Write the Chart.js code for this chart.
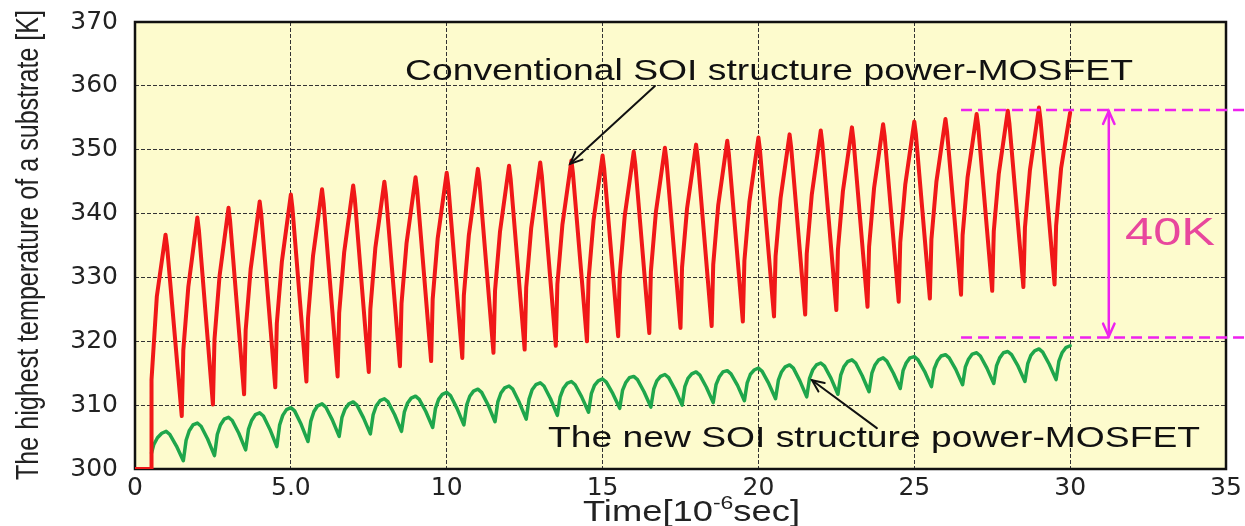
<!DOCTYPE html>
<html>
<head>
<meta charset="utf-8">
<script src="https://cdn.jsdelivr.net/npm/chart.js@4.4.1/dist/chart.umd.min.js"></script>
<style>
  html, body { margin: 0; padding: 0; background: #ffffff; }
  #wrap { width: 1245px; height: 526px; }
</style>
</head>
<body>
<div id="wrap"><canvas id="c" width="1245" height="526"></canvas></div>
<script>
// ---------- data ----------
const xTickValues = [0, 5, 10, 15, 20, 25, 30, 35];
const xTickLabels = ['0', '5.0', '10', '15', '20', '25', '30', '35'];
const yTickLabels = ['300', '310', '320', '330', '340', '350', '360', '370'];

// Conventional SOI structure power-MOSFET (red), time in 10^-6 s, temperature in K
const redTime = [0, 0.52, 0.53, 0.7, 0.98, 1.03,
  1.5, 1.55, 1.71, 2, 2.05, 2.5, 2.55, 2.71, 3, 3.05, 3.5, 3.55, 3.71, 4, 4.05,
  4.5, 4.55, 4.71, 5, 5.05, 5.5, 5.55, 5.71, 6, 6.05, 6.5, 6.55, 6.71, 7, 7.05,
  7.5, 7.55, 7.71, 8, 8.05, 8.5, 8.55, 8.71, 9, 9.05, 9.5, 9.55, 9.71, 10, 10.05,
  10.5, 10.55, 10.71, 11, 11.05, 11.5, 11.55, 11.71, 12, 12.05, 12.5, 12.55, 12.71, 13, 13.05,
  13.5, 13.55, 13.71, 14, 14.05, 14.5, 14.55, 14.71, 15, 15.05, 15.5, 15.55, 15.71, 16, 16.05,
  16.5, 16.55, 16.71, 17, 17.05, 17.5, 17.55, 17.71, 18, 18.05, 18.5, 18.55, 18.71, 19, 19.05,
  19.5, 19.55, 19.71, 20, 20.05, 20.5, 20.55, 20.71, 21, 21.05, 21.5, 21.55, 21.71, 22, 22.05,
  22.5, 22.55, 22.71, 23, 23.05, 23.5, 23.55, 23.71, 24, 24.05, 24.5, 24.55, 24.71, 25, 25.05,
  25.5, 25.55, 25.71, 26, 26.05, 26.5, 26.55, 26.71, 27, 27.05, 27.5, 27.55, 27.71, 28, 28.05,
  28.5, 28.55, 28.71, 29, 29.05, 29.5, 29.55, 29.71, 30];
const redTemp = [300, 300, 314, 327, 336.7, 334.8,
  308.3, 318.6, 328.5, 339.4, 337.4, 310.1, 320.3, 330.1, 340.9, 338.9, 311.7, 321.7, 331.3, 341.9, 339.9,
  312.8, 322.8, 332.4, 343.0, 340.9, 313.7, 323.6, 333.3, 343.8, 341.7, 314.5, 324.4, 333.9, 344.4, 342.4,
  315.2, 325.0, 334.6, 345.0, 343.0, 316.1, 325.9, 335.3, 345.7, 343.7, 316.9, 326.6, 336.1, 346.4, 344.4,
  317.4, 327.2, 336.6, 347.0, 345.0, 318.2, 327.9, 337.2, 347.5, 345.5, 318.7, 328.4, 337.7, 348.0, 346.0,
  319.3, 328.9, 338.2, 348.3, 346.3, 320.0, 329.6, 338.9, 349.1, 347.1, 320.8, 330.3, 339.6, 349.7, 347.7,
  321.3, 330.9, 340.2, 350.3, 348.3, 322.1, 331.6, 340.8, 350.8, 348.8, 322.4, 332.0, 341.3, 351.4, 349.4,
  323.1, 332.6, 341.8, 351.9, 349.9, 323.9, 333.3, 342.4, 352.4, 350.4, 324.2, 333.7, 342.9, 353.0, 351.0,
  324.9, 334.3, 343.5, 353.5, 351.5, 325.4, 334.8, 344.0, 354.0, 352.1, 326.2, 335.5, 344.5, 354.4, 352.5,
  326.7, 336.0, 345.0, 354.8, 352.9, 327.3, 336.6, 345.7, 355.6, 353.7, 327.9, 337.2, 346.2, 356.1, 354.2,
  328.5, 337.8, 346.8, 356.6, 354.7, 328.9, 338.1, 347.1, 355.8];

// The new SOI structure power-MOSFET (green)
const greenTime = [0.53, 0.6, 0.72, 0.86, 1,
  1.12, 1.33, 1.55, 1.64, 1.74, 1.86, 2,
  2.12, 2.33, 2.55, 2.64, 2.74, 2.86, 3,
  3.12, 3.33, 3.55, 3.64, 3.74, 3.86, 4,
  4.12, 4.33, 4.55, 4.64, 4.74, 4.86, 5,
  5.12, 5.33, 5.55, 5.64, 5.74, 5.86, 6,
  6.12, 6.33, 6.55, 6.64, 6.74, 6.86, 7,
  7.12, 7.33, 7.55, 7.64, 7.74, 7.86, 8,
  8.12, 8.33, 8.55, 8.64, 8.74, 8.86, 9,
  9.12, 9.33, 9.55, 9.64, 9.74, 9.86, 10,
  10.12, 10.33, 10.55, 10.64, 10.74, 10.86, 11,
  11.12, 11.33, 11.55, 11.64, 11.74, 11.86, 12,
  12.12, 12.33, 12.55, 12.64, 12.74, 12.86, 13,
  13.12, 13.33, 13.55, 13.64, 13.74, 13.86, 14,
  14.12, 14.33, 14.55, 14.64, 14.74, 14.86, 15,
  15.12, 15.33, 15.55, 15.64, 15.74, 15.86, 16,
  16.12, 16.33, 16.55, 16.64, 16.74, 16.86, 17,
  17.12, 17.33, 17.55, 17.64, 17.74, 17.86, 18,
  18.12, 18.33, 18.55, 18.64, 18.74, 18.86, 19,
  19.12, 19.33, 19.55, 19.64, 19.74, 19.86, 20,
  20.12, 20.33, 20.55, 20.64, 20.74, 20.86, 21,
  21.12, 21.33, 21.55, 21.64, 21.74, 21.86, 22,
  22.12, 22.33, 22.55, 22.64, 22.74, 22.86, 23,
  23.12, 23.33, 23.55, 23.64, 23.74, 23.86, 24,
  24.12, 24.33, 24.55, 24.64, 24.74, 24.86, 25,
  25.12, 25.33, 25.55, 25.64, 25.74, 25.86, 26,
  26.12, 26.33, 26.55, 26.64, 26.74, 26.86, 27,
  27.12, 27.33, 27.55, 27.64, 27.74, 27.86, 28,
  28.12, 28.33, 28.55, 28.64, 28.74, 28.86, 29,
  29.12, 29.33, 29.55, 29.64, 29.74, 29.86, 30];
const greenTemp = [302.5, 303.8, 304.9, 305.6, 305.9,
  305.4, 303.6, 301.3, 304.5, 306.0, 306.9, 307.2,
  306.7, 304.7, 302.1, 305.4, 306.9, 307.8, 308.1,
  307.6, 305.6, 303.0, 306.2, 307.6, 308.5, 308.8,
  308.3, 306.2, 303.5, 306.9, 308.4, 309.3, 309.6,
  309.1, 307.0, 304.3, 307.5, 309.0, 309.9, 310.2,
  309.7, 307.7, 305.1, 308.1, 309.4, 310.2, 310.5,
  310.0, 308.0, 305.5, 308.5, 309.9, 310.7, 311.0,
  310.5, 308.5, 305.9, 308.9, 310.3, 311.1, 311.4,
  310.9, 309.0, 306.5, 309.5, 310.9, 311.7, 312.0,
  311.5, 309.5, 306.9, 310.0, 311.4, 312.2, 312.5,
  312.0, 310.0, 307.4, 310.5, 311.9, 312.7, 313.0,
  312.5, 310.4, 307.8, 310.9, 312.4, 313.2, 313.5,
  313.0, 311.0, 308.4, 311.3, 312.6, 313.4, 313.7,
  313.2, 311.3, 308.9, 311.8, 313.1, 313.8, 314.1,
  313.6, 311.8, 309.5, 312.3, 313.5, 314.3, 314.5,
  314.0, 312.1, 309.7, 312.5, 313.8, 314.5, 314.8,
  314.3, 312.4, 310.0, 312.9, 314.2, 314.9, 315.2,
  314.7, 312.8, 310.4, 313.2, 314.4, 315.2, 315.4,
  314.9, 313.1, 310.7, 313.5, 314.8, 315.5, 315.8,
  315.3, 313.4, 311.0, 313.9, 315.2, 316.0, 316.3,
  315.8, 313.8, 311.3, 314.2, 315.5, 316.3, 316.6,
  316.1, 314.2, 311.7, 314.7, 316.0, 316.8, 317.1,
  316.6, 314.6, 312.1, 315.0, 316.3, 317.1, 317.4,
  316.9, 315.0, 312.6, 315.4, 316.6, 317.4, 317.6,
  317.1, 315.3, 312.9, 315.7, 316.9, 317.7, 317.9,
  317.4, 315.6, 313.2, 316.0, 317.2, 318.0, 318.2,
  317.7, 315.8, 313.4, 316.2, 317.4, 318.2, 318.4,
  317.9, 316.1, 313.7, 316.5, 317.8, 318.5, 318.8,
  318.3, 316.4, 314.0, 316.9, 318.2, 319.0, 319.3];

// annotation values (data units)
const gapTop = 356.2;      // upper magenta level
const gapBottom = 320.6;   // lower magenta level
const gapLabel = '40K';
const convLabel = 'Conventional SOI structure power-MOSFET';
const newLabel = 'The new SOI structure power-MOSFET';
const yTitle = 'The highest temperature of a substrate [K]';

// ---------- helpers ----------
function toPoints(ts, vs) { return ts.map((t, i) => ({ x: t, y: vs[i] })); }

function arrowHead(ctx, x1, y1, x2, y2, len, ang) {
  const a = Math.atan2(y2 - y1, x2 - x1);
  ctx.beginPath();
  ctx.moveTo(x2 - len * Math.cos(a - ang), y2 - len * Math.sin(a - ang));
  ctx.lineTo(x2, y2);
  ctx.lineTo(x2 - len * Math.cos(a + ang), y2 - len * Math.sin(a + ang));
  ctx.stroke();
}
function arrow(ctx, x1, y1, x2, y2, color, w, len, both) {
  ctx.save();
  ctx.strokeStyle = color; ctx.lineWidth = w; ctx.lineCap = 'round'; ctx.lineJoin = 'miter';
  ctx.beginPath(); ctx.moveTo(x1, y1); ctx.lineTo(x2, y2); ctx.stroke();
  arrowHead(ctx, x1, y1, x2, y2, len, 0.42);
  if (both) arrowHead(ctx, x2, y2, x1, y1, len, 0.42);
  ctx.restore();
}
function stretchedText(ctx, text, x, y, font, color, width) {
  ctx.save();
  ctx.font = font; ctx.fillStyle = color; ctx.textBaseline = 'alphabetic'; ctx.textAlign = 'left';
  const w = ctx.measureText(text).width;
  ctx.translate(x, y);
  ctx.scale(width / w, 1);
  ctx.fillText(text, 0, 0);
  ctx.restore();
}

const decor = {
  id: 'decor',
  beforeDraw(chart) {
    const { ctx, chartArea: a } = chart;
    ctx.save();
    ctx.fillStyle = '#ffffff';
    ctx.fillRect(0, 0, chart.width, chart.height);
    ctx.fillStyle = '#fdfbcd';
    ctx.fillRect(a.left, a.top, a.right - a.left, a.bottom - a.top);
    ctx.restore();
  },
  beforeDatasetsDraw(chart) {
    const { ctx, chartArea: a } = chart;
    ctx.save();
    ctx.strokeStyle = '#111';
    ctx.lineWidth = 2.5;
    ctx.strokeRect(a.left, a.top, a.right - a.left, a.bottom - a.top);
    ctx.restore();
  },
  afterDraw(chart) {
    const { ctx, chartArea: a } = chart;
    const xs = chart.scales.x, ys = chart.scales.y;
    const X = v => xs.getPixelForValue(v), Y = v => ys.getPixelForValue(v);

    // magenta dashed levels
    ctx.save();
    ctx.strokeStyle = '#ee22ee';
    ctx.lineWidth = 2.5;
    ctx.setLineDash([11, 6]);
    [gapTop, gapBottom].forEach(v => {
      ctx.beginPath(); ctx.moveTo(X(26.5), Y(v)); ctx.lineTo(chart.width, Y(v)); ctx.stroke();
    });
    ctx.restore();
    arrow(ctx, X(31.24), Y(gapTop) + 1, X(31.24), Y(gapBottom) - 1, '#ee22ee', 2.5, 14, true);
    stretchedText(ctx, gapLabel, X(31.76), Y(335.1), '39px "Liberation Sans", Arial, sans-serif', '#e8479d', 90);

    // black arrows
    arrow(ctx, X(16.68), Y(359.98), X(13.96), Y(347.8), '#111', 2, 13, false);
    arrow(ctx, X(23.8), Y(306.4), X(21.72), Y(313.9), '#111', 2, 13, false);

    // labels
    stretchedText(ctx, convLabel, X(8.66), Y(360.9), '30px "Liberation Sans", Arial, sans-serif', '#111', 728);
    stretchedText(ctx, newLabel, X(13.25), Y(303.4), '30px "Liberation Sans", Arial, sans-serif', '#111', 652);

    // y axis title (rotated)
    ctx.save();
    ctx.font = '25px "Liberation Sans", Arial, sans-serif';
    ctx.fillStyle = '#222';
    ctx.textAlign = 'center';
    ctx.textBaseline = 'alphabetic';
    const tw = ctx.measureText(yTitle).width;
    ctx.translate(38, 245);
    ctx.rotate(-Math.PI / 2);
    ctx.scale(470 / tw, 1.25);
    ctx.fillText(yTitle, 0, 0);
    ctx.restore();

    // x axis title: Time[10^-6 sec]
    ctx.save();
    ctx.fillStyle = '#222';
    ctx.textBaseline = 'alphabetic';
    ctx.textAlign = 'left';
    const big = '30px "Liberation Sans", Arial, sans-serif';
    const small = '19px "Liberation Sans", Arial, sans-serif';
    ctx.font = big; const w1 = ctx.measureText('Time[10').width; const w3 = ctx.measureText('sec]').width;
    ctx.font = small; const w2 = ctx.measureText('-6').width;
    const sx = 217 / (w1 + w2 + w3);
    ctx.translate(583, 521);
    ctx.scale(sx, 1);
    ctx.font = big; ctx.fillText('Time[10', 0, 0);
    ctx.font = small; ctx.fillText('-6', w1, -12);
    ctx.font = big; ctx.fillText('sec]', w1 + w2, 0);
    ctx.restore();
  }
};

const gridDash = [4, 2];
const tickFont = { family: '"DejaVu Sans", sans-serif', size: 25 };
new Chart(document.getElementById('c'), {
  type: 'line',
  data: {
    datasets: [
      { label: convLabel, data: toPoints(redTime, redTemp), borderColor: '#f01818', borderWidth: 4,
        pointRadius: 0, tension: 0, fill: false, borderJoinStyle: 'round', borderCapStyle: 'round' },
      { label: newLabel, data: toPoints(greenTime, greenTemp), borderColor: '#1fa64b', borderWidth: 3.5,
        pointRadius: 0, tension: 0, fill: false, borderJoinStyle: 'round', borderCapStyle: 'round' }
    ]
  },
  options: {
    responsive: false,
    animation: false,
    devicePixelRatio: 1,
    layout: { padding: { left: 0, right: 19, top: 22, bottom: 0 } },
    plugins: { legend: { display: false }, tooltip: { enabled: false } },
    scales: {
      x: {
        type: 'linear', min: 0, max: 35,
        afterFit: s => { s.height = 57; s.paddingLeft = 0; s.paddingRight = 0; },
        afterBuildTicks: s => { s.ticks = xTickValues.map(v => ({ value: v })); },
        ticks: { autoSkip: false, maxRotation: 0, padding: 4, color: '#222', font: tickFont,
          callback: (v) => xTickLabels[xTickValues.indexOf(v)] },
        grid: { color: '#333', lineWidth: 1, drawTicks: false },
        border: { display: false, dash: gridDash }
      },
      y: {
        type: 'linear', min: 300, max: 370,
        afterFit: s => { s.width = 135; s.paddingTop = 0; s.paddingBottom = 0; },
        ticks: { stepSize: 10, padding: 17, color: '#222', font: tickFont,
          callback: (v, i) => yTickLabels[i] },
        grid: { color: '#333', lineWidth: 1, drawTicks: false },
        border: { display: false, dash: gridDash }
      }
    }
  },
  plugins: [decor]
});
</script>
</body>
</html>
